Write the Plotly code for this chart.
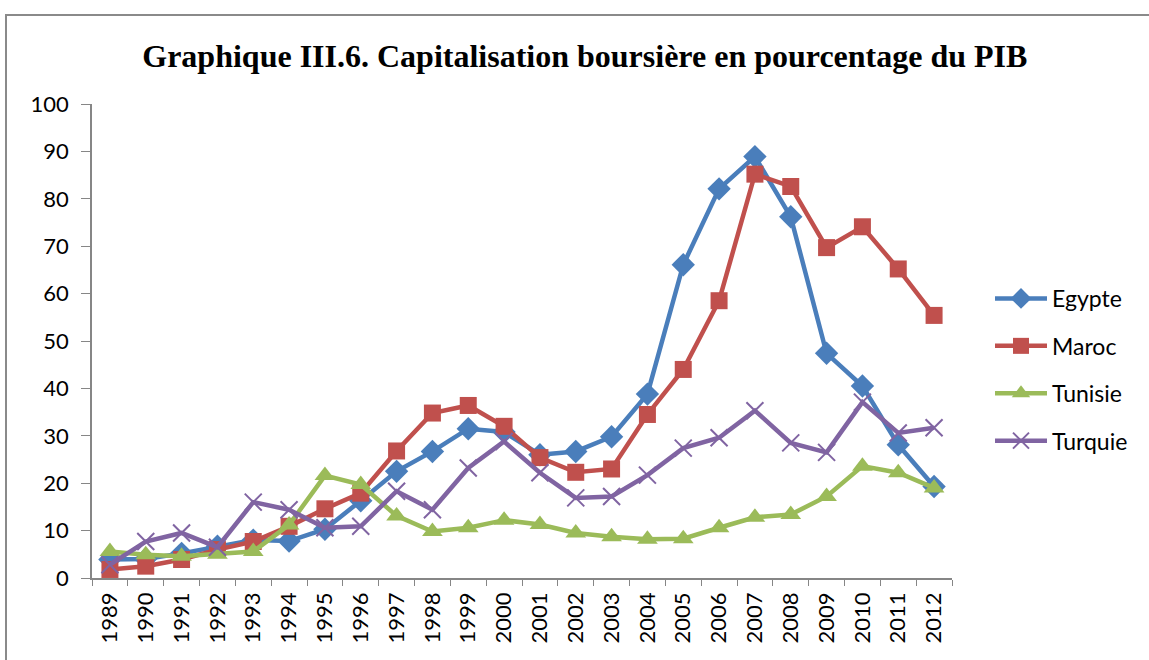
import plotly.graph_objects as go

years = [str(y) for y in range(1989, 2013)]

egypte = [3.9, 4.0, 5.2, 6.7, 8.0, 7.8, 10.3, 16.3, 22.5, 26.7, 31.5, 30.8, 26.0, 26.7, 29.8,
          38.8, 66.1, 82.1, 88.9, 76.2, 47.4, 40.5, 28.1, 19.3]
maroc = [1.8, 2.5, 3.9, 6.0, 7.7, 10.9, 14.6, 17.9, 26.8, 34.8, 36.4, 32.0, 25.4, 22.3, 23.0,
         34.5, 44.0, 58.5, 85.2, 82.6, 69.7, 74.1, 65.2, 55.4]
tunisie = [5.6, 4.9, 4.6, 5.0, 5.6, 11.2, 21.6, 19.7, 13.1, 9.8, 10.6, 12.2, 11.3, 9.5, 8.7,
           8.2, 8.3, 10.6, 12.8, 13.4, 17.2, 23.6, 22.2, 19.0]
turquie = [2.8, 7.7, 9.5, 6.5, 16.0, 14.4, 10.6, 10.9, 18.3, 14.4, 23.2, 28.8, 22.2, 16.9, 17.2,
           21.7, 27.4, 29.6, 35.3, 28.5, 26.5, 37.1, 30.6, 31.7]

series = [
    ("Egypte", egypte, "#4A7EBB", dict(symbol="diamond", size=18)),
    ("Maroc", maroc, "#C0504D", dict(symbol="square", size=17)),
    ("Tunisie", tunisie, "#9BBB59", dict(symbol="triangle-up", size=18)),
    ("Turquie", turquie, "#8064A2", dict(symbol="x-thin", size=17,
                                         line=dict(width=2, color="#8064A2"))),
]

fig = go.Figure()
for name, vals, color, marker in series:
    fig.add_trace(go.Scatter(
        x=years, y=vals, name=name, mode="lines+markers",
        line=dict(color=color, width=4.5),
        marker=dict(color=color, **marker),
        legendgroup=name,
    ))

L, R, T, B = 92, 197, 104, 82
W, H = 1149, 660
pw, ph = W - L - R, H - T - B

def px_x(p):
    return (p - L) / pw

def px_y(p):
    return (H - B - p) / ph

fig.add_shape(type="rect", xref="paper", yref="paper",
              x0=px_x(6), x1=px_x(1170), y0=px_y(680), y1=px_y(15),
              line=dict(color="#8a8a8a", width=2), fillcolor="rgba(0,0,0,0)",
              layer="below")

fig.update_layout(
    width=W, height=H,
    margin=dict(l=L, r=R, t=T, b=B),
    paper_bgcolor="white", plot_bgcolor="white",
    title=dict(text="<b>Graphique III.6. Capitalisation boursière en pourcentage du PIB</b>",
               x=0.509, xanchor="center", y=1 - 56 / H, yanchor="middle",
               font=dict(family="Liberation Serif", size=32, color="black")),
    font=dict(family="Lato", size=22, color="black"),
    legend=dict(x=px_x(990), xanchor="left", y=px_y(277), yanchor="top",
                font=dict(size=23), tracegroupgap=14.5, itemwidth=52,
                bgcolor="rgba(0,0,0,0)"),
    xaxis=dict(type="category", range=[-0.5, 23.5], tickangle=-90, showline=True,
               linecolor="#868686", linewidth=1.5, ticks="outside", ticklen=6,
               tickcolor="#868686", tickson="boundaries", showgrid=False,
               tickfont=dict(size=22), ticklabelstandoff=4),
    yaxis=dict(range=[0, 100], dtick=10, showline=True, linecolor="#868686",
               linewidth=1.5, ticks="outside", ticklen=9, tickcolor="#868686",
               showgrid=False, zeroline=False, tickfont=dict(size=22),
               ticklabelstandoff=8),
)

fig.write_html("out.html")
